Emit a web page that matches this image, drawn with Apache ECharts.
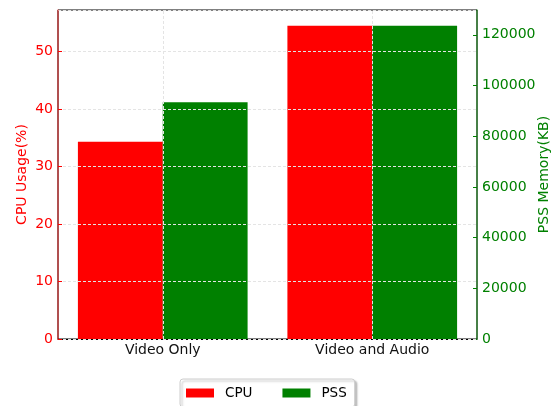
<!DOCTYPE html>
<html>
<head>
<meta charset="utf-8">
<script src="https://cdn.jsdelivr.net/npm/echarts@6/dist/echarts.min.js"></script>
<style>
  html, body { margin: 0; padding: 0; background: #fff; }
  #chart { width: 552px; height: 406px; }
</style>
</head>
<body>
<div id="chart"></div>
<script>
// Scenario labels along the x axis
const categories = ['Video Only', 'Video and Audio'];
// CPU usage in percent (left axis)
const cpuUsage = [34.3, 54.5];
// PSS memory in KB (right axis)
const pssMemory = [93400, 123600];
// Axis tick steps
const cpuTickStep = 10;
const pssTickStep = 20000;
// Headroom above the tallest bar on each axis
const headroom = 1.05;

const FONT = 'DejaVu Sans';
const gridLine = { color: '#e4e4e4', width: 1, type: [3, 2] };

const chart = echarts.init(document.getElementById('chart'), null, { renderer: 'canvas' });

chart.setOption({
  animation: false,
  textStyle: { fontFamily: FONT },
  grid: {
    left: 58, right: 75, top: 10, bottom: 67,
    outerBoundsMode: 'none',
    containLabel: false,
    show: true, borderColor: '#000', borderWidth: 1, backgroundColor: 'transparent'
  },
  legend: {
    left: 180, top: 379,
    itemWidth: 28, itemHeight: 9, itemGap: 30,
    padding: [7, 8, 7, 6],
    icon: 'rect',
    textStyle: { fontFamily: FONT, fontSize: 13.5, color: '#000', padding: [0, 0, 0, 6] },
    borderColor: '#cccccc', borderWidth: 1, borderRadius: 3,
    backgroundColor: '#fff',
    shadowColor: 'rgba(0,0,0,0.25)', shadowBlur: 2, shadowOffsetX: 2, shadowOffsetY: 2,
    data: ['CPU', 'PSS']
  },
  xAxis: {
    type: 'category',
    data: categories,
    axisLine: { show: true, lineStyle: { color: '#000', width: 1 } },
    axisTick: { show: true, inside: true, alignWithLabel: true, length: 4, lineStyle: { color: '#000' } },
    axisLabel: { color: '#111', fontSize: 14, fontFamily: FONT, margin: 4 },
    splitLine: { show: false }
  },
  yAxis: [
    {
      type: 'value',
      name: 'CPU Usage(%)',
      nameLocation: 'middle',
      nameGap: 29,
      nameMoveOverlap: false,
      nameTextStyle: { color: '#ff0000', fontSize: 14, fontFamily: FONT },
      min: 0,
      max: Math.max(...cpuUsage) * headroom,
      interval: cpuTickStep,
      z: 5,
      axisLine: { show: true, lineStyle: { color: 'rgba(255,0,0,0.5)', width: 1.5 } },
      axisTick: { show: true, inside: true, length: 4, lineStyle: { color: '#ff0000' } },
      axisLabel: { color: '#ff0000', fontSize: 14, fontFamily: FONT, margin: 5, showMaxLabel: false },
      splitLine: { show: true, lineStyle: gridLine }
    },
    {
      type: 'value',
      name: 'PSS Memory(KB)',
      nameLocation: 'middle',
      nameGap: 60,
      nameMoveOverlap: false,
      nameRotate: 90,
      nameTextStyle: { color: '#008000', fontSize: 14, fontFamily: FONT },
      min: 0,
      max: Math.max(...pssMemory) * headroom,
      interval: pssTickStep,
      position: 'right',
      axisLine: { show: true, lineStyle: { color: 'rgba(0,128,0,0.6)', width: 1.5 } },
      axisTick: { show: true, inside: true, length: 4, lineStyle: { color: '#008000' } },
      axisLabel: {
        color: '#008000', fontSize: 14, fontFamily: FONT, margin: 5, showMaxLabel: false,
        formatter: v => String(v)
      },
      splitLine: { show: false }
    }
  ],
  series: [
    {
      name: 'CPU',
      type: 'bar',
      yAxisIndex: 0,
      data: cpuUsage,
      barGap: '0%',
      barCategoryGap: '19%',
      itemStyle: { color: '#ff0000' }
    },
    {
      name: 'PSS',
      type: 'bar',
      yAxisIndex: 1,
      data: pssMemory,
      itemStyle: { color: '#008000' }
    },
    {
      // vertical grid lines at each category centre, drawn above the bars
      name: 'xgrid',
      type: 'line',
      yAxisIndex: 0,
      data: [],
      silent: true,
      markLine: {
        silent: true,
        symbol: 'none',
        label: { show: false },
        lineStyle: gridLine,
        data: categories.map(c => ({ xAxis: c }))
      }
    }
  ]
});
</script>
</body>
</html>
